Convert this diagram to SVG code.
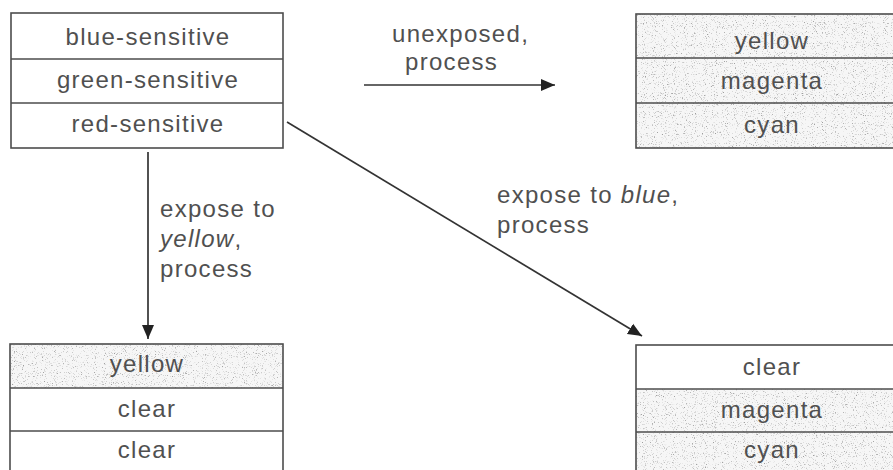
<svg xmlns="http://www.w3.org/2000/svg" width="893" height="470" viewBox="0 0 893 470">
  <style>
    .cell { fill: #ffffff; stroke: none; }
    .tint { fill: #f6f6f6; stroke: none; }
    .grain { fill: #000; filter: url(#stipple); }
    .frame { fill: none; stroke: #4d4d4d; stroke-width: 1.6; }
    .rule { stroke: #4d4d4d; stroke-width: 1.6; }
    .layer { font-family: "Liberation Sans", Arial, sans-serif; font-size: 24px; letter-spacing: 1.3px; fill: #505050; text-anchor: middle; }
    .note { font-family: "Liberation Sans", Arial, sans-serif; font-size: 24px; letter-spacing: 1.3px; fill: #505050; }
    .note .em { font-style: italic; }
    .link { fill: none; stroke: #333333; stroke-width: 1.7; marker-end: url(#head); }
  </style>
  <defs>
    <!-- speckled grey used for dyed layers -->
    <filter id="stipple" x="0" y="0" width="1" height="1" color-interpolation-filters="sRGB">
      <feTurbulence type="fractalNoise" baseFrequency="0.9" numOctaves="2" seed="7" result="noise"/>
      <feColorMatrix in="noise" type="matrix" values="0 0 0 0 0.62  0 0 0 0 0.62  0 0 0 0 0.62  4 0 0 0 -2.35"/>
    </filter>
    <marker id="head" markerUnits="userSpaceOnUse" markerWidth="15" markerHeight="13" refX="14" refY="6.5" orient="auto">
      <path d="M0,0.5 L14,6.5 L0,12.5 Z" fill="#222222"/>
    </marker>
  </defs>

  <rect x="0" y="0" width="893" height="470" fill="#ffffff"/>

  <!-- film before processing -->
  <g id="node-film">
    <rect class="cell" x="11" y="13" width="272" height="135"/>
    <rect class="frame" x="11" y="13" width="272" height="135"/>
    <line class="rule" x1="11" y1="59" x2="283" y2="59"/>
    <line class="rule" x1="11" y1="103" x2="283" y2="103"/>
    <text class="layer" x="148" y="45">blue-sensitive</text>
    <text class="layer" x="148" y="88">green-sensitive</text>
    <text class="layer" x="148" y="132">red-sensitive</text>
  </g>

  <!-- unexposed result -->
  <g id="node-unexposed">
    <rect class="tint" x="636" y="14" width="272" height="134"/>
    <rect class="grain" x="636" y="14" width="272" height="134"/>
    <rect class="frame" x="636" y="14" width="272" height="134"/>
    <line class="rule" x1="636" y1="58" x2="908" y2="58"/>
    <line class="rule" x1="636" y1="103" x2="908" y2="103"/>
    <text class="layer" x="772" y="49">yellow</text>
    <text class="layer" x="772" y="89">magenta</text>
    <text class="layer" x="772" y="133">cyan</text>
  </g>

  <!-- exposed to yellow result -->
  <g id="node-yellow-exposed">
    <rect class="cell" x="10" y="344" width="273" height="140"/>
    <rect class="tint" x="10" y="344" width="273" height="44"/>
    <rect class="grain" x="10" y="344" width="273" height="44"/>
    <rect class="frame" x="10" y="344" width="273" height="140"/>
    <line class="rule" x1="10" y1="388" x2="283" y2="388"/>
    <line class="rule" x1="10" y1="431" x2="283" y2="431"/>
    <text class="layer" x="147" y="372">yellow</text>
    <text class="layer" x="147" y="417">clear</text>
    <text class="layer" x="147" y="458">clear</text>
  </g>

  <!-- exposed to blue result -->
  <g id="node-blue-exposed">
    <rect class="cell" x="636" y="345" width="272" height="140"/>
    <rect class="tint" x="636" y="389" width="272" height="96"/>
    <rect class="grain" x="636" y="389" width="272" height="96"/>
    <rect class="frame" x="636" y="345" width="272" height="140"/>
    <line class="rule" x1="636" y1="389" x2="908" y2="389"/>
    <line class="rule" x1="636" y1="432" x2="908" y2="432"/>
    <text class="layer" x="772" y="375">clear</text>
    <text class="layer" x="772" y="418">magenta</text>
    <text class="layer" x="772" y="458">cyan</text>
  </g>

  <g id="connectors">
    <line class="link" x1="364" y1="85" x2="555" y2="85"/>
    <line class="link" x1="148" y1="152" x2="148" y2="339"/>
    <line class="link" x1="287" y1="122" x2="642" y2="336"/>

    <text class="note" x="392" y="42">unexposed,</text>
    <text class="note" x="405" y="70">process</text>

    <text class="note" x="160" y="217">expose to</text>
    <text class="note" x="160" y="247"><tspan class="em">yellow</tspan>,</text>
    <text class="note" x="160" y="277">process</text>

    <text class="note" x="497" y="203">expose to <tspan class="em">blue</tspan>,</text>
    <text class="note" x="497" y="233">process</text>
  </g>
</svg>
